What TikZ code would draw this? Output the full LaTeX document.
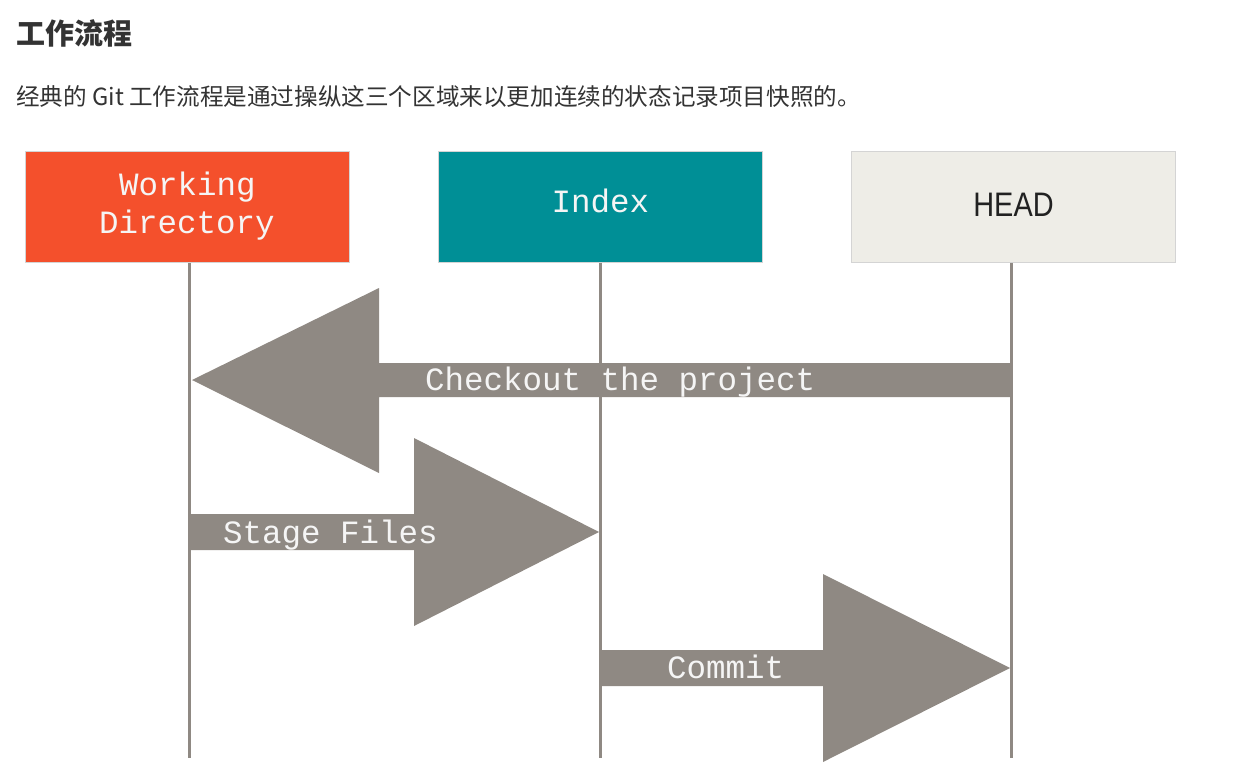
\documentclass[tikz,border=0pt]{standalone}
\usepackage{fontspec}
\newfontfamily\cjk{Noto Sans CJK SC}
\newfontfamily\monof{Liberation Mono}
\newfontfamily\headf[FakeStretch=0.85]{Liberation Sans}
\definecolor{wdorange}{RGB}{244,80,44}
\definecolor{idxteal}{RGB}{0,143,150}
\definecolor{headbg}{RGB}{238,237,231}
\definecolor{arrowgray}{RGB}{143,137,131}
\definecolor{boxedge}{RGB}{212,212,212}
\definecolor{titlegray}{RGB}{51,51,51}
\tikzset{
  areabox/.style={draw=boxedge, line width=0.8pt, minimum width=324pt, minimum height=111pt, inner sep=0pt, anchor=north west},
  monotext/.style={font=\monof\fontsize{32.5}{38}\selectfont, text=white!96!black, inner sep=0pt},
  boxlabel/.style={monotext, anchor=base},
  lifeline/.style={draw=arrowgray, line width=3pt},
  bigarrow/.style={fill=arrowgray},
  arrowlabel/.style={monotext, anchor=base west},
}
\begin{document}
\begin{tikzpicture}[x=1pt,y=-1pt]
\useasboundingbox (0,0) rectangle (1247,784);
% texts
\node[anchor=west, inner sep=0pt, text=titlegray, font=\cjk\bfseries\fontsize{29}{33}\selectfont] (title) at (16,33) {工作流程};
\node[anchor=west, inner sep=0pt, text=titlegray, font=\cjk\fontsize{23.6}{27}\selectfont] (sub) at (16,97) {经典的 Git 工作流程是通过操纵这三个区域来以更加连续的状态记录项目快照的。};
% boxes
\node[areabox, fill=wdorange] (wd) at (25,151) {};
\node[areabox, fill=idxteal] (idx) at (438,151) {};
\node[areabox, fill=headbg] (head) at (851,151) {};
\node[boxlabel] (wdl1) at (187.5,195) {Working};
\node[boxlabel] (wdl2) at (187,233) {Directory};
\node[boxlabel] (idxl) at (600.5,212) {Index};
\node[anchor=base, inner sep=0pt, text=black!87, font=\headf\fontsize{34}{40}\selectfont] (headl) at (1013.5,216) {HEAD};
% lifeline ends
\coordinate (wdend) at (189,758);
\coordinate (idxend) at (600,758);
\coordinate (headend) at (1011,758);
% arrows
\fill[bigarrow] (1011,363) -- (379,363) -- (379,288) -- (192,380) -- (379,473) -- (379,397) -- (1011,397) -- cycle;
\fill[bigarrow] (189,514) -- (414,514) -- (414,438) -- (599,532) -- (414,626) -- (414,550) -- (189,550) -- cycle;
\fill[bigarrow] (600,650) -- (823,650) -- (823,574) -- (1010,668) -- (823,762) -- (823,686) -- (600,686) -- cycle;
% lifelines
\draw[lifeline] (wd.south -| wdend) -- (wdend);
\draw[lifeline] (idx.south -| idxend) -- (idxend);
\draw[lifeline] (head.south -| headend) -- (headend);
% labels
\node[arrowlabel] (lco) at (425,390) {Checkout the project};
\node[arrowlabel] (lsf) at (223,543) {Stage Files};
\node[arrowlabel] (lcm) at (667,678) {Commit};
\end{tikzpicture}
\end{document}
